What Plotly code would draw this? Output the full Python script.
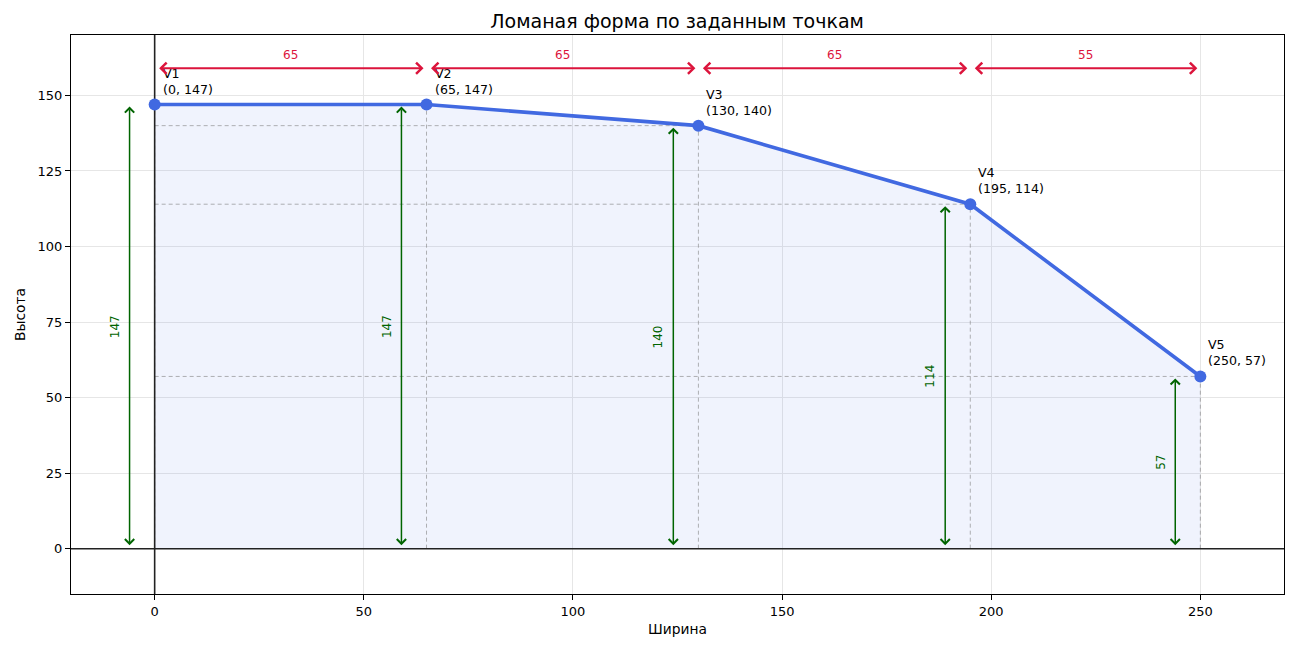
import plotly.graph_objects as go

# ---- data ----
labels = ["V1", "V2", "V3", "V4", "V5"]
xs = [0, 65, 130, 195, 250]
ys = [147, 147, 140, 114, 57]
x_ticks = [0, 50, 100, 150, 200, 250]
y_ticks = [0, 25, 50, 75, 100, 125, 150]
title_text = "Ломаная форма по заданным точкам"
x_title = "Ширина"
y_title = "Высота"

FONT = "DejaVu Sans"
BLUE = "#4169E1"
RED = "#DC143C"
GREEN = "#006400"
dim_y = max(ys) + 12       # height of horizontal dimension arrows
v_off = 6                  # offset of vertical dimension arrows

fig = go.Figure()

# fill under polyline
fig.add_trace(go.Scatter(
    x=xs + [xs[-1], xs[0]], y=ys + [0, 0], mode="lines", fill="toself",
    fillcolor="rgba(65,105,225,0.08)", line=dict(width=0), hoverinfo="skip",
    showlegend=False))

# dashed helper lines
for x, y in zip(xs, ys):
    fig.add_trace(go.Scatter(x=[0, x], y=[y, y], mode="lines",
                             line=dict(color="rgba(128,128,128,0.6)", width=1, dash="4px,3px"),
                             hoverinfo="skip", showlegend=False))
    fig.add_trace(go.Scatter(x=[x, x], y=[0, y], mode="lines",
                             line=dict(color="rgba(128,128,128,0.6)", width=1, dash="4px,3px"),
                             hoverinfo="skip", showlegend=False))

# axis lines at 0
fig.add_trace(go.Scatter(x=[-20, 270], y=[0, 0], mode="lines",
                         line=dict(color="#222222", width=1.6), hoverinfo="skip", showlegend=False))
fig.add_trace(go.Scatter(x=[0, 0], y=[-15, 170], mode="lines",
                         line=dict(color="#222222", width=1.6), hoverinfo="skip", showlegend=False))

# polyline
fig.add_trace(go.Scatter(x=xs, y=ys, mode="lines+markers",
                         line=dict(color=BLUE, width=3.6),
                         marker=dict(color=BLUE, size=12),
                         showlegend=False))

ann = []
# vertex labels
for lab, x, y in zip(labels, xs, ys):
    ann.append(dict(x=x, y=y, xref="x", yref="y", text=f"{lab}<br>({x}, {y})",
                    showarrow=False, xanchor="left", yanchor="bottom", align="left",
                    xshift=6, yshift=6, font=dict(family=FONT, size=12.6, color="black")))

# horizontal dimension arrows
for i in range(len(xs) - 1):
    x0, x1 = xs[i], xs[i + 1]
    ann.append(dict(x=x1, y=dim_y, ax=x0, ay=dim_y, xref="x", yref="y", axref="x", ayref="y",
                    text="", showarrow=True, arrowhead=4, startarrowhead=4, arrowside="end+start",
                    arrowsize=1.1, startarrowsize=1.1, arrowwidth=2, arrowcolor=RED,
                    standoff=3, startstandoff=3))
    ann.append(dict(x=(x0 + x1) / 2, y=dim_y, xref="x", yref="y", text=str(x1 - x0),
                    showarrow=False, yanchor="bottom", yshift=4,
                    font=dict(family=FONT, size=12, color=RED)))

# vertical dimension arrows
for x, y in zip(xs, ys):
    ann.append(dict(x=x - v_off, y=y, ax=x - v_off, ay=0, xref="x", yref="y", axref="x", ayref="y",
                    text="", showarrow=True, arrowhead=4, startarrowhead=4, arrowside="end+start",
                    arrowsize=1.2, startarrowsize=1.2, arrowwidth=1.5, arrowcolor=GREEN,
                    standoff=2, startstandoff=2))
    ann.append(dict(x=x - v_off, y=y / 2, xref="x", yref="y", text=str(y), textangle=-90,
                    showarrow=False, xanchor="center", xshift=-15,
                    font=dict(family=FONT, size=12, color=GREEN)))

# page has an 8px body margin: figure is placed at (8, 8) in the 1299x648 window
fig.update_layout(
    width=1283, height=632,
    margin=dict(l=63, r=7, t=27, b=46),
    paper_bgcolor="white", plot_bgcolor="white",
    font=dict(family=FONT, size=13, color="black"),
    title=dict(text=title_text, x=0.5215, xanchor="center", y=1 - 13 / 632, yanchor="middle",
               yref="container", font=dict(family=FONT, size=19, color="black")),
    annotations=ann,
    xaxis=dict(range=[-20, 270], tickvals=x_ticks, ticks="outside", ticklen=5, tickcolor="black",
               showgrid=True, gridcolor="#e6e6e6", gridwidth=1, zeroline=False,
               showline=True, linecolor="black", linewidth=1, mirror=True,
               title=dict(text=x_title, standoff=6, font=dict(size=13.8)), tickfont=dict(size=13)),
    yaxis=dict(range=[-15, 170], tickvals=y_ticks, ticks="outside", ticklen=5, tickcolor="black",
               showgrid=True, gridcolor="#e6e6e6", gridwidth=1, zeroline=False,
               showline=True, linecolor="black", linewidth=1, mirror=True,
               title=dict(text=y_title, standoff=8, font=dict(size=13.8)), tickfont=dict(size=13)),
)

fig.write_html("out.html")
